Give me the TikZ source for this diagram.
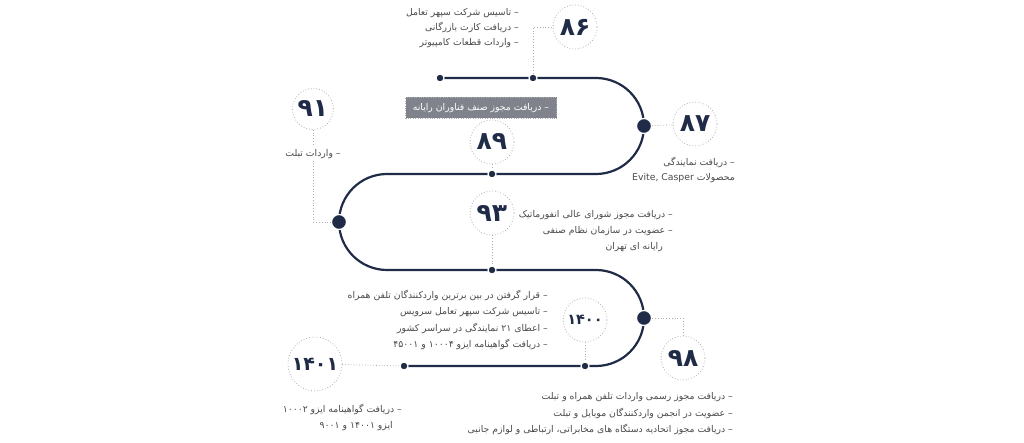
\documentclass[tikz,border=0pt]{standalone}
\usepackage{fontspec}
\usetikzlibrary{positioning}
\newfontfamily\arabicfont[Script=Arabic]{DejaVu Sans}
\TeXXeTstate=1
\newcommand{\fatext}[1]{\beginR #1\endR}
\definecolor{roadblue}{HTML}{1F2B47}
\definecolor{notegray}{HTML}{4A4A4A}
\definecolor{ringgray}{HTML}{B0B0B0}
\definecolor{boxgray}{HTML}{80838B}

\begin{document}
\begin{tikzpicture}[x=1pt, y=-1pt,
  road/.style={draw=roadblue, line width=2.2pt},
  bigdot/.style={circle, fill=roadblue, draw=white, line width=1.2pt,
    inner sep=0pt, minimum size=15pt},
  smalldot/.style={circle, fill=roadblue, draw=white, line width=1.2pt,
    inner sep=0pt, minimum size=8pt},
  yearring/.style={circle, draw=ringgray, dotted, line width=0.8pt,
    minimum size=44pt, inner sep=0pt, text=roadblue,
    font=\arabicfont\bfseries\fontsize{25}{25}\selectfont},
  note/.style={text=notegray, font=\arabicfont\fontsize{9.3}{16}\selectfont,
    align=right, inner sep=0pt},
  leader/.style={draw=ringgray, dotted, line width=0.8pt}
]
\useasboundingbox (0,0) rectangle (1024,443);

% The road, from the first year to the last
\coordinate (roadstart) at (440,78);
\coordinate (roadend) at (404,366);
\draw[road] (roadstart) -- (596,78) arc[start angle=-90, end angle=90, radius=48]
  -- (387,174) arc[start angle=270, end angle=90, radius=48]
  -- (596,270) arc[start angle=-90, end angle=90, radius=48]
  -- (roadend);

% Dots on the road
\node[smalldot] (d0) at (roadstart) {};
\node[smalldot] (d86) at (533,78) {};
\node[bigdot] (d87) at (644,126) {};
\node[smalldot] (d89) at (492,174) {};
\node[bigdot] (d91) at (339,222) {};
\node[smalldot] (d93) at (492,270) {};
\node[bigdot] (d98) at (644,318) {};
\node[smalldot] (d1400) at (585,366) {};
\node[smalldot] (d1401) at (roadend) {};

% Year rings
\node[yearring] (c86) at (575,27) {۸۶};
\node[yearring] (c87) at (695,124) {۸۷};
\node[yearring] (c89) at (492,142) {۸۹};
\node[yearring, minimum size=41pt] (c91) at (313,109) {۹۱};
\node[yearring] (c93) at (492,213) {۹۳};
\node[yearring, font=\arabicfont\bfseries\fontsize{14.5}{15}\selectfont] (c1400) at (585,320) {۱۴۰۰};
\node[yearring] (c98) at (683,358) {۹۸};
\node[yearring, minimum size=54pt, font=\arabicfont\bfseries\fontsize{19}{19}\selectfont] (c1401) at (315,364) {۱۴۰۱};

% Leaders from rings to the road
\draw[leader] (d86) |- (c86);
\draw[leader] (d87) -- (c87);
\draw[leader] (c89) -- (d89);
\draw[leader] (c91) |- (d91);
\draw[leader] (c93) -- (d93);
\draw[leader] (c1400) -- (d1400);
\draw[leader] (d98) -| (c98);
\draw[leader] (c1401) -- (d1401);

% Notes
\node[note, anchor=east, font=\arabicfont\fontsize{9.3}{15}\selectfont] (n86) at (519,28)
  {\fatext{– تاسیس شرکت سپهر تعامل}\\ \fatext{– دریافت کارت بازرگانی}\\
   \fatext{– واردات قطعات کامپیوتر}};
\node[note, anchor=east, font=\arabicfont\fontsize{9.3}{15}\selectfont] (n87) at (735,170)
  {\fatext{– دریافت نمایندگی}\\ \fatext{محصولات \beginL Evite, Casper\endL}};
\node[note, text=white, fill=boxgray, draw=ringgray, dotted, minimum width=151pt,
  minimum height=21pt] (n89) at (481,108) {\fatext{– دریافت مجوز صنف فناوران رایانه}};
\node[note, fill=white, inner sep=2pt] (n91) at (313,154) {\fatext{– واردات تبلت}};
\node[note, anchor=east] (n93) at (673,231)
  {\fatext{– دریافت مجوز شورای عالی انفورماتیک}\\ \fatext{– عضویت در سازمان نظام صنفی}\\
   \fatext{رایانه ای تهران}\rule{10pt}{0pt}};
\node[note, anchor=east, font=\arabicfont\fontsize{9.3}{16.4}\selectfont] (n1400) at (548,320)
  {\fatext{– قرار گرفتن در بین برترین واردکنندگان تلفن همراه}\\
   \fatext{– تاسیس شرکت سپهر تعامل سرویس}\\
   \fatext{– اعطای ۲۱ نمایندگی در سراسر کشور}\\
   \fatext{– دریافت گواهینامه ایزو ۱۰۰۰۴ و ۴۵۰۰۱}};
\node[note, anchor=east, font=\arabicfont\fontsize{9.3}{16.5}\selectfont] (n98) at (733,414)
  {\fatext{– دریافت مجوز رسمی واردات تلفن همراه و تبلت}\\
   \fatext{– عضویت در انجمن واردکنندگان موبایل و تبلت}\\
   \fatext{– دریافت مجوز اتحادیه دستگاه های مخابراتی، ارتباطی و لوازم جانبی}};
\node[note, anchor=east] (n1401) at (402,417)
  {\fatext{– دریافت گواهینامه ایزو ۱۰۰۰۲}\\ \fatext{ایزو ۱۴۰۰۱ و ۹۰۰۱}\rule{9pt}{0pt}};

\end{tikzpicture}
\end{document}
